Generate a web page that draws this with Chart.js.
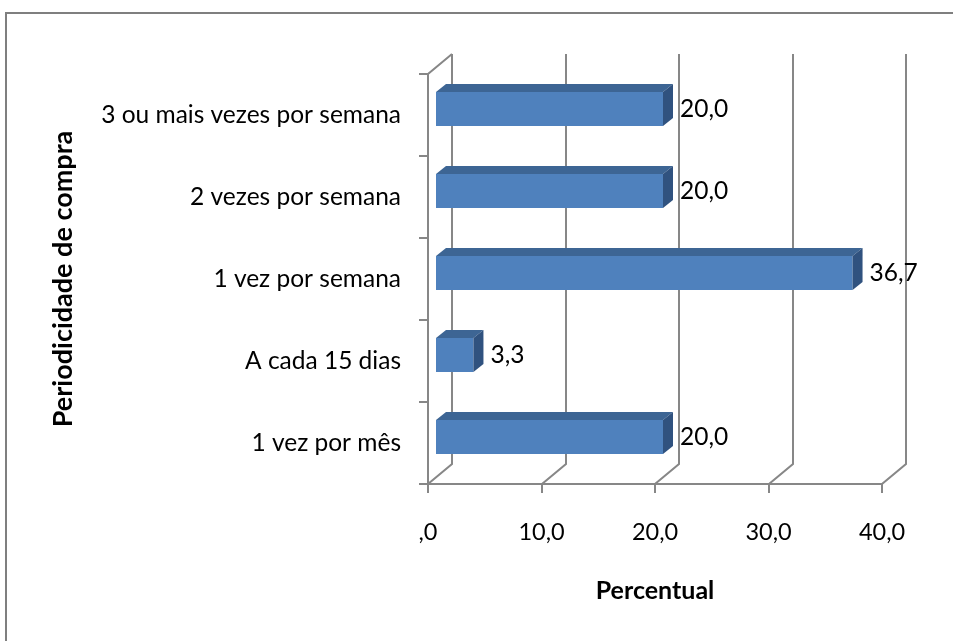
<!DOCTYPE html>
<html>
<head>
<meta charset="utf-8">
<script src="https://cdn.jsdelivr.net/npm/chart.js@4/dist/chart.umd.min.js"></script>
<style>
  html, body { margin: 0; padding: 0; background: #ffffff; }
  canvas { display: block; }
</style>
</head>
<body>
<canvas id="chart" width="953" height="641"></canvas>
<script>
// Purchase frequency (percent of respondents)
const categories = [
  '3 ou mais vezes por semana',
  '2 vezes por semana',
  '1 vez por semana',
  'A cada 15 dias',
  '1 vez por mês'
];
const percentValues = [20.0, 20.0, 36.7, 3.3, 20.0];
const xTickValues = [0, 10, 20, 30, 40];
const xTickLabels = [',0', '10,0', '20,0', '30,0', '40,0'];
const yAxisTitle = 'Periodicidade de compra';
const xAxisTitle = 'Percentual';

const fmt = v => v.toFixed(1).replace('.', ',');

// 3-D look: wall depth, bar position inside the depth and bar thickness
const WALL = { dx: 24, dy: -20 };
const BAR_SHIFT = { dx: 8, dy: -6 };
const BAR_DEPTH = { dx: 10, dy: -8 };
const GRID_COLOR = '#878787';
const FRONT_COLOR = '#4F81BD';
const TOP_COLOR = '#3D6594';
const SIDE_COLOR = '#30527F';
const FONT = 'Lato, "Open Sans", sans-serif';

const box3d = {
  id: 'box3d',
  beforeDraw(chart) {
    const ctx = chart.ctx;
    ctx.save();
    ctx.strokeStyle = '#7f7f7f';
    ctx.lineWidth = 2;
    ctx.strokeRect(6, 13, 1000, 700);
    ctx.restore();
  },
  beforeDatasetsDraw(chart) {
    const { ctx, chartArea: a, scales: { x, y } } = chart;
    ctx.save();
    ctx.strokeStyle = GRID_COLOR;
    ctx.lineWidth = 2;
    ctx.lineJoin = 'miter';
    // back-wall gridlines with floor diagonals and tick marks
    xTickValues.forEach(v => {
      const px = Math.round(x.getPixelForValue(v));
      ctx.beginPath();
      ctx.moveTo(px, a.bottom + 9);
      ctx.lineTo(px, a.bottom);
      ctx.lineTo(px + WALL.dx, a.bottom + WALL.dy);
      ctx.lineTo(px + WALL.dx, a.top + WALL.dy);
      ctx.stroke();
    });
    // front floor edge and left axis
    ctx.beginPath();
    ctx.moveTo(a.left - 9, a.bottom);
    ctx.lineTo(a.right, a.bottom);
    ctx.moveTo(a.left, a.bottom);
    ctx.lineTo(a.left, a.top);
    ctx.lineTo(a.left + WALL.dx, a.top + WALL.dy);
    // category boundary ticks
    for (let i = 0; i <= categories.length; i++) {
      const py = Math.round(y.getPixelForValue(i - 0.5));
      ctx.moveTo(a.left - 9, py);
      ctx.lineTo(a.left, py);
    }
    ctx.stroke();
    ctx.restore();

    // bars sit a little way into the depth of the box
    ctx.save();
    ctx.translate(BAR_SHIFT.dx, BAR_SHIFT.dy);
  },
  afterDatasetsDraw(chart) {
    const ctx = chart.ctx;
    const meta = chart.getDatasetMeta(0);
    meta.data.forEach((bar, i) => {
      const { x, y, base, height } = bar.getProps(['x', 'y', 'base', 'height'], true);
      const top = y - height / 2;
      const bot = y + height / 2;
      // top face
      ctx.fillStyle = TOP_COLOR;
      ctx.beginPath();
      ctx.moveTo(base, top);
      ctx.lineTo(x, top);
      ctx.lineTo(x + BAR_DEPTH.dx, top + BAR_DEPTH.dy);
      ctx.lineTo(base + BAR_DEPTH.dx, top + BAR_DEPTH.dy);
      ctx.closePath();
      ctx.fill();
      // end face
      ctx.fillStyle = SIDE_COLOR;
      ctx.beginPath();
      ctx.moveTo(x, top);
      ctx.lineTo(x + BAR_DEPTH.dx, top + BAR_DEPTH.dy);
      ctx.lineTo(x + BAR_DEPTH.dx, bot + BAR_DEPTH.dy);
      ctx.lineTo(x, bot);
      ctx.closePath();
      ctx.fill();
      // value label
      ctx.fillStyle = '#000000';
      ctx.font = '24.5px ' + FONT;
      ctx.textAlign = 'left';
      ctx.textBaseline = 'middle';
      ctx.fillText(fmt(percentValues[i]), x + BAR_DEPTH.dx + 7, y);
    });
    ctx.restore();
  }
};

new Chart(document.getElementById('chart'), {
  type: 'bar',
  data: {
    labels: categories,
    datasets: [{
      data: percentValues,
      backgroundColor: FRONT_COLOR,
      borderWidth: 0,
      barPercentage: 0.415,
      categoryPercentage: 1.0
    }]
  },
  options: {
    indexAxis: 'y',
    responsive: false,
    devicePixelRatio: 1,
    animation: false,
    layout: { padding: { left: 0, right: 71, top: 74, bottom: 0 } },
    plugins: { legend: { display: false }, tooltip: { enabled: false } },
    scales: {
      x: {
        type: 'linear',
        min: 0,
        max: 40,
        afterBuildTicks(scale) { scale.ticks = xTickValues.map(v => ({ value: v })); },
        ticks: {
          callback: v => xTickLabels[xTickValues.indexOf(v)],
          font: { family: FONT, size: 23.5 },
          color: '#000000',
          padding: 34,
          maxRotation: 0
        },
        grid: { display: false, drawTicks: false },
        border: { display: false },
        title: {
          display: true,
          text: xAxisTitle,
          font: { family: FONT, size: 25, weight: 'bold' },
          color: '#000000',
          padding: { top: 0, bottom: 35 }
        },
        afterFit(scale) { scale.height = 157; }
      },
      y: {
        type: 'category',
        offset: true,
        ticks: {
          font: { family: FONT, size: 24.5 },
          color: '#000000',
          padding: 27
        },
        grid: { display: false, drawTicks: false },
        border: { display: false },
        title: {
          display: true,
          text: yAxisTitle,
          font: { family: FONT, size: 27, weight: 'bold' },
          color: '#000000',
          padding: { top: 47, bottom: 0 }
        },
        afterFit(scale) { scale.width = 428; }
      }
    }
  },
  plugins: [box3d]
});
</script>
</body>
</html>
